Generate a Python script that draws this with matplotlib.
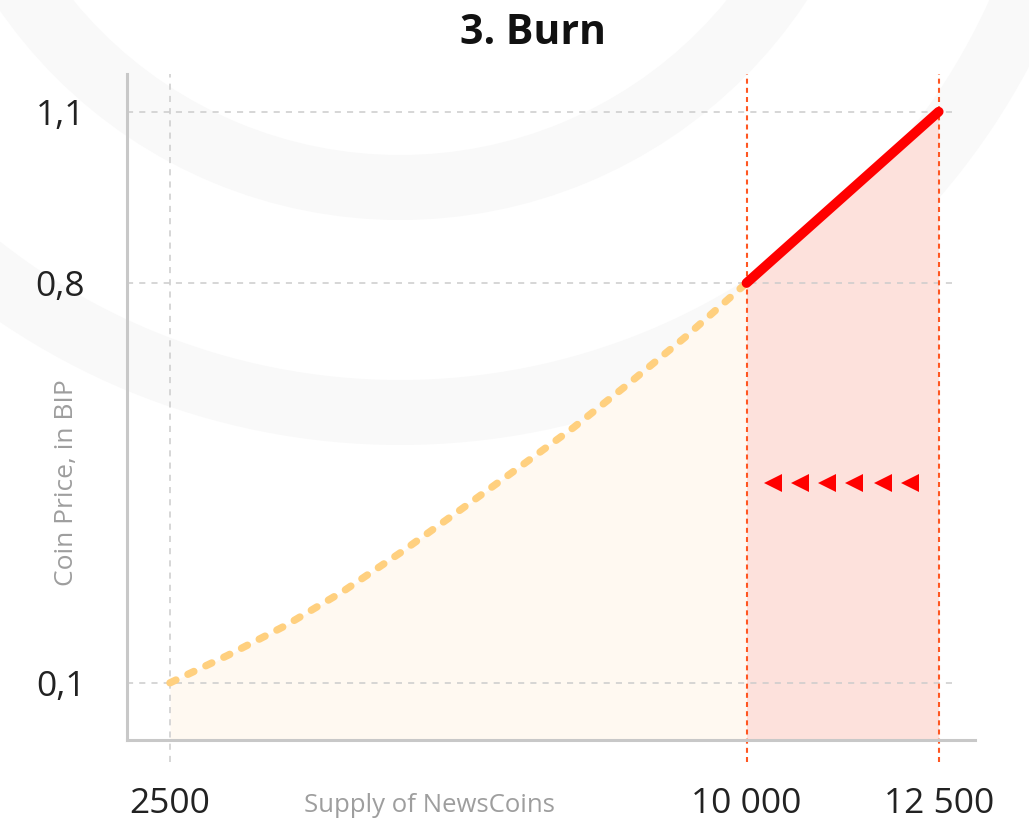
import matplotlib
matplotlib.use("Agg")
import matplotlib.pyplot as plt
from matplotlib.patches import Annulus

plt.rcParams['font.family'] = ['Open Sans', 'DejaVu Sans']

# bonding curve
supply = [2500, 3250, 4000, 4750, 5500, 6300, 7050, 7750, 8450, 9200, 10000]
price = [0.1, 0.148, 0.2, 0.26, 0.328, 0.405, 0.478, 0.547, 0.622, 0.705, 0.8]

# burn segment
burn_supply = [10000, 12500]
burn_price = [0.8, 1.1]

# little arrows pointing left inside the burn zone
arrow_x = [10350, 10700, 11050, 11400, 11770, 12130]
arrow_y = [0.45] * len(arrow_x)

x_ticks = [2500, 10000, 12500]
x_labels = ["2500", "10 000", "12 500"]
y_ticks = [0.1, 0.8, 1.1]
y_labels = ["0,1", "0,8", "1,1"]

fig = plt.figure(figsize=(10.29, 8.23), dpi=100)
fig.patch.set_facecolor('white')

# watermark rings in the background (pixel space)
bg = fig.add_axes([0, 0, 1, 1], zorder=0)
bg.set_xlim(0, 1029)
bg.set_ylim(823, 0)
bg.axis('off')
bg.add_patch(Annulus((400, -267), 487, 65, color='#f9f9f9', lw=0))
bg.add_patch(Annulus((400, -267), 712, 65, color='#f9f9f9', lw=0))

ax = fig.add_axes([0.1234, 0.1009, 0.8241, 0.8092], zorder=1)
ax.patch.set_alpha(0)
ax.set_xlim(1941, 12972)
ax.set_ylim(0, 1.166)

ax.fill_between(supply, price, 0, color='#fff9f1', lw=0, zorder=1)
ax.fill_between(burn_supply, burn_price, 0, color='#fde1dc', lw=0, zorder=1)

# grid
ax.hlines(y_ticks, xmin=1941, xmax=12750, colors='#cccccc', linestyles=(0, (4, 4)), lw=1.1, zorder=2)
ax.axvline(x_ticks[0], ymin=-0.033, ymax=1, clip_on=False, color='#cccccc', ls=(0, (4, 4)), lw=1.1, zorder=2)
for xv in x_ticks[1:]:
    ax.axvline(xv, ymin=-0.033, ymax=1, clip_on=False, color='#ff5722', ls=(0, (2.4, 2)), lw=1.5, zorder=2)

ax.plot(supply, price, color='#ffd07f', lw=5.3, ls=(0, (0.9, 1.8)), dash_capstyle='round', zorder=3)
ax.plot(burn_supply, burn_price, color='#ff0000', lw=7, solid_capstyle='round', zorder=4)
ax.plot(arrow_x, arrow_y, ls='none', marker='<', ms=13, mew=0, color='#ff0000', zorder=4)

for s in ['top', 'right']:
    ax.spines[s].set_visible(False)
for s in ['left', 'bottom']:
    ax.spines[s].set_color('#c8c8c8')
    ax.spines[s].set_linewidth(2.2)

ax.set_xticks(x_ticks, labels=x_labels)
ax.set_yticks(y_ticks, labels=y_labels)
ax.tick_params(axis='x', length=0, labelsize=25.5, labelcolor='#222222', pad=34)
ax.tick_params(axis='y', length=0, labelsize=25.5, labelcolor='#222222', pad=30)

fig.text(429 / 1029, 1 - 806 / 823, "Supply of NewsCoins", ha='center', va='center',
         fontsize=18.5, color='#9e9e9e')
fig.text(67 / 1029, 1 - 483 / 823, "Coin Price, in BIP", ha='center', va='center',
         rotation=90, fontsize=19, color='#9e9e9e')
fig.text(533 / 1029, 1 - 34 / 823, "3. Burn", ha='center', va='center',
         fontsize=29.5, fontweight='bold', color='#111111')

fig.savefig('out.png', dpi=100, facecolor='white')
